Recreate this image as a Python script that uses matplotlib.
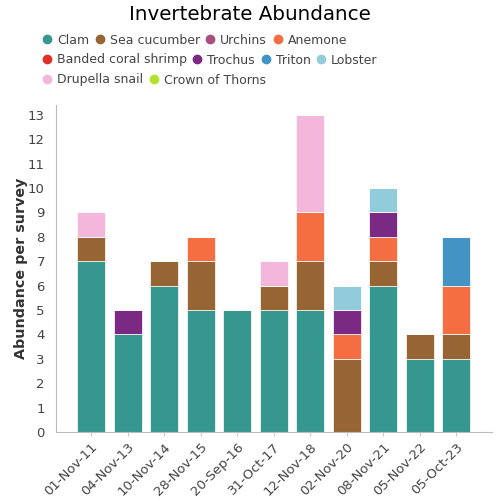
import numpy as np
import matplotlib.pyplot as plt
from matplotlib.lines import Line2D

# survey dates
dates = ['01-Nov-11', '04-Nov-13', '10-Nov-14', '28-Nov-15', '20-Sep-16', '31-Oct-17',
         '12-Nov-18', '02-Nov-20', '08-Nov-21', '05-Nov-22', '05-Oct-23']

# counts per species, one value per survey
clam = [7, 4, 6, 5, 5, 5, 5, 0, 6, 3, 3]
sea_cucumber = [1, 0, 1, 2, 0, 1, 2, 3, 1, 1, 1]
urchins = [0, 0, 0, 0, 0, 0, 0, 0, 0, 0, 0]
anemone = [0, 0, 0, 1, 0, 0, 2, 1, 1, 0, 2]
shrimp = [0, 0, 0, 0, 0, 0, 0, 0, 0, 0, 0]
trochus = [0, 1, 0, 0, 0, 0, 0, 1, 1, 0, 0]
triton = [0, 0, 0, 0, 0, 0, 0, 0, 0, 0, 2]
lobster = [0, 0, 0, 0, 0, 0, 0, 1, 1, 0, 0]
drupella = [1, 0, 0, 0, 0, 1, 4, 0, 0, 0, 0]
cot = [0, 0, 0, 0, 0, 0, 0, 0, 0, 0, 0]

species = ['Clam', 'Sea cucumber', 'Urchins', 'Anemone', 'Banded coral shrimp',
           'Trochus', 'Triton', 'Lobster', 'Drupella snail', 'Crown of Thorns']
values = [clam, sea_cucumber, urchins, anemone, shrimp, trochus, triton, lobster, drupella, cot]
colors = ['#36978e', '#976534', '#a94f7f', '#f56e42', '#de3028',
          '#7b2a84', '#4394c4', '#92ccda', '#f2b7da', '#b5e02e']

text_col = '#444444'
fig = plt.figure(figsize=(5, 5), dpi=100)
ax = fig.add_axes([0.112, 0.136, 0.872, 0.654])

x = np.arange(len(dates))
bottom = np.zeros(len(dates))
for name, vals, c in zip(species, values, colors):
    v = np.array(vals, dtype=float)
    ax.bar(x, v, bottom=bottom, width=0.77, color=c, edgecolor='white', linewidth=0.5)
    bottom += v

ax.set_xlim(-0.96, 10.98)
ax.set_ylim(0, 13.4)
ax.set_yticks(range(0, 14))
ax.set_xticks(x)
ax.set_xticklabels(dates, rotation=45, ha='right', rotation_mode='anchor')
ax.tick_params(axis='x', length=3, color='#cccccc', labelsize=9.5, labelcolor=text_col, pad=3)
ax.tick_params(axis='y', length=0, labelsize=9.5, labelcolor=text_col, pad=8)
for s in ['top', 'right']:
    ax.spines[s].set_visible(False)
for s in ['left', 'bottom']:
    ax.spines[s].set_color('#bbbbbb')
ax.set_ylabel('Abundance per survey', fontsize=10.3, fontweight='bold', color='#333333', labelpad=0)

fig.text(0.5, 0.99, 'Invertebrate Abundance', ha='center', va='top', fontsize=14.3, color='black')

# legend rows laid out like the original's flowing legend
rows = [[0, 1, 2, 3], [4, 5, 6, 7], [8, 9]]
row_y = [0.92, 0.88, 0.84]
for r, yy in zip(rows, row_y):
    handles = [Line2D([], [], marker='o', linestyle='none', markersize=6,
                      markerfacecolor=colors[i], markeredgecolor=colors[i]) for i in r]
    leg = fig.legend(handles, [species[i] for i in r], loc='center left',
                     bbox_to_anchor=(0.086, yy), ncol=len(r), frameon=False,
                     handletextpad=0.5, columnspacing=0.55, handlelength=0.6,
                     fontsize=9, borderaxespad=0, borderpad=0)
    for t in leg.get_texts():
        t.set_color(text_col)

fig.savefig('out.png', dpi=100)
